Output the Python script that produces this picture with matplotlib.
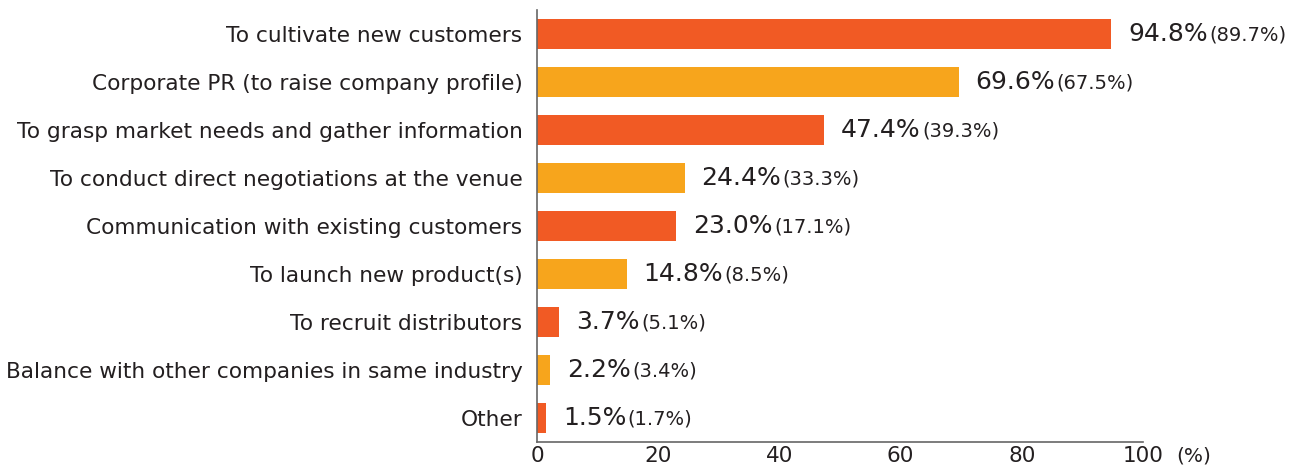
import matplotlib
matplotlib.use("Agg")
import matplotlib.pyplot as plt

categories = [
    "To cultivate new customers",
    "Corporate PR (to raise company profile)",
    "To grasp market needs and gather information",
    "To conduct direct negotiations at the venue",
    "Communication with existing customers",
    "To launch new product(s)",
    "To recruit distributors",
    "Balance with other companies in same industry",
    "Other",
]
values = [94.8, 69.6, 47.4, 24.4, 23.0, 14.8, 3.7, 2.2, 1.5]
previous = [89.7, 67.5, 39.3, 33.3, 17.1, 8.5, 5.1, 3.4, 1.7]
xticks = [0, 20, 40, 60, 80, 100]

RED = "#F15A24"
YEL = "#F7A51C"
TXT = "#231F20"

plt.rcParams['font.family'] = ['DejaVu Sans']

fig = plt.figure(figsize=(13.09, 4.69), dpi=100)
ax = fig.add_axes([537/1309, 1-442/469, (1143-537)/1309, (442-10)/469])

ypos = list(range(len(categories)))
colors = [RED if i % 2 == 0 else YEL for i in ypos]
ax.barh(ypos, values, height=0.63, color=colors, zorder=2)

ax.set_xlim(0, 100)
ax.set_ylim(len(categories) - 0.5, -0.5)
ax.set_yticks(ypos)
ax.set_yticklabels(categories, fontsize=15.6, color=TXT)
ax.set_xticks(xticks)
ax.set_xticklabels([str(t) for t in xticks], fontsize=15.5, color=TXT)
ax.tick_params(axis='both', length=0)
ax.tick_params(axis='y', pad=10.5)
ax.tick_params(axis='x', pad=3)

for s in ['top', 'right']:
    ax.spines[s].set_visible(False)
for s in ['left', 'bottom']:
    ax.spines[s].set_color('#666666')
    ax.spines[s].set_linewidth(1.2)

for y, v, p in zip(ypos, values, previous):
    t1 = ax.annotate(f"{v:.1f}%", xy=(v, y), xytext=(12, 0), textcoords='offset points',
                     va='center', ha='left', fontsize=18, color=TXT)
    ax.annotate(f"({p:.1f}%)", xy=(1, 0), xycoords=t1, xytext=(1, 1),
                textcoords='offset points', va='bottom', ha='left', fontsize=14, color=TXT)

ax.annotate("(%)", xy=(100, 0), xycoords=('data', 'axes fraction'), xytext=(24, -3),
            textcoords='offset points', va='top', ha='left', fontsize=14.5, color=TXT)

fig.savefig("out.png", dpi=100)
